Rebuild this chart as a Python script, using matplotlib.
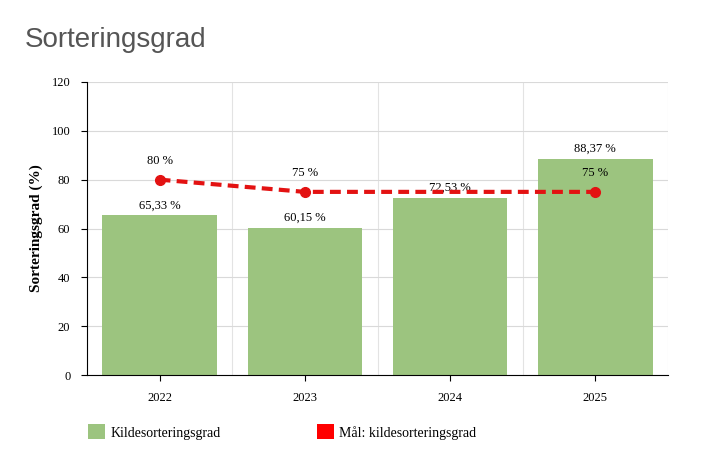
import matplotlib
matplotlib.use("Agg")
import matplotlib.pyplot as plt
from matplotlib.patches import Patch
import numpy as np

years = ["2022", "2023", "2024", "2025"]
sortering = [65.33, 60.15, 72.53, 88.37]
maal = [80, 75, 75, 75]
bar_labels = ["65,33 %", "60,15 %", "72,53 %", "88,37 %"]
maal_labels = ["80 %", "75 %", "", "75 %"]
maal_markers = [0, 1, 3]

serif = ["Liberation Serif", "DejaVu Serif"]
bar_color = "#9cc47f"
line_color = "#e31212"

fig = plt.figure(figsize=(7.05, 4.62), dpi=100)
ax = fig.add_axes([87/705, 1-375/462, (668-87)/705, (375-82)/462])

x = np.arange(len(years))
ax.bar(x, sortering, width=0.79, color=bar_color, zorder=2)
ax.plot(x, maal, color=line_color, lw=3, ls=(0, (2.6, 1.5)), marker="o", ms=7,
        markevery=maal_markers, zorder=3)

for xi, v, lab in zip(x, sortering, bar_labels):
    ax.annotate(lab, (xi, v), xytext=(0, 3), textcoords="offset points",
                ha="center", va="bottom", fontsize=9, family=serif, zorder=2.5)
for xi, v, lab in zip(x, maal, maal_labels):
    if lab:
        ax.annotate(lab, (xi, v), xytext=(0, 9), textcoords="offset points",
                    ha="center", va="bottom", fontsize=9, family=serif, zorder=4)

ax.set_xlim(-0.5, len(years) - 0.5)
ax.set_ylim(0, 120)
ax.set_yticks(range(0, 121, 20))
ax.set_xticks(x)
ax.set_xticklabels(years)
ax.set_xticks(np.arange(-0.5, len(years), 1.0), minor=True)
ax.grid(axis="y", color="#d9d9d9", lw=0.8, zorder=0)
ax.grid(axis="x", which="minor", color="#e3e3e3", lw=0.8, zorder=0)
ax.tick_params(axis="x", which="minor", length=0)
ax.tick_params(axis="both", which="major", length=4, width=0.8, color="black",
               labelsize=9, pad=8)
for lab in ax.get_xticklabels() + ax.get_yticklabels():
    lab.set_family(serif)
for s in ["top", "right"]:
    ax.spines[s].set_visible(False)
ax.spines["left"].set_color("black")
ax.spines["bottom"].set_color("black")

ax.set_ylabel("Sorteringsgrad (%)", fontsize=11, fontweight="bold",
              family=serif, labelpad=6)

fig.text(25/705, 1-40/462, "Sorteringsgrad", fontsize=20, color="#555555",
         family=["Liberation Sans", "DejaVu Sans"], va="center", ha="left")

handles = [Patch(facecolor=bar_color, label="Kildesorteringsgrad"),
           Patch(facecolor="#ff0000", label="Mål: kildesorteringsgrad")]
leg = fig.legend(handles=handles, loc="center left",
                 bbox_to_anchor=(75/705, 1-432/462), ncol=2, frameon=False,
                 prop={"family": serif, "size": 10}, handlelength=1.25,
                 handleheight=1.25, handletextpad=0.4, columnspacing=6.9)

fig.savefig("out.png", dpi=100)
